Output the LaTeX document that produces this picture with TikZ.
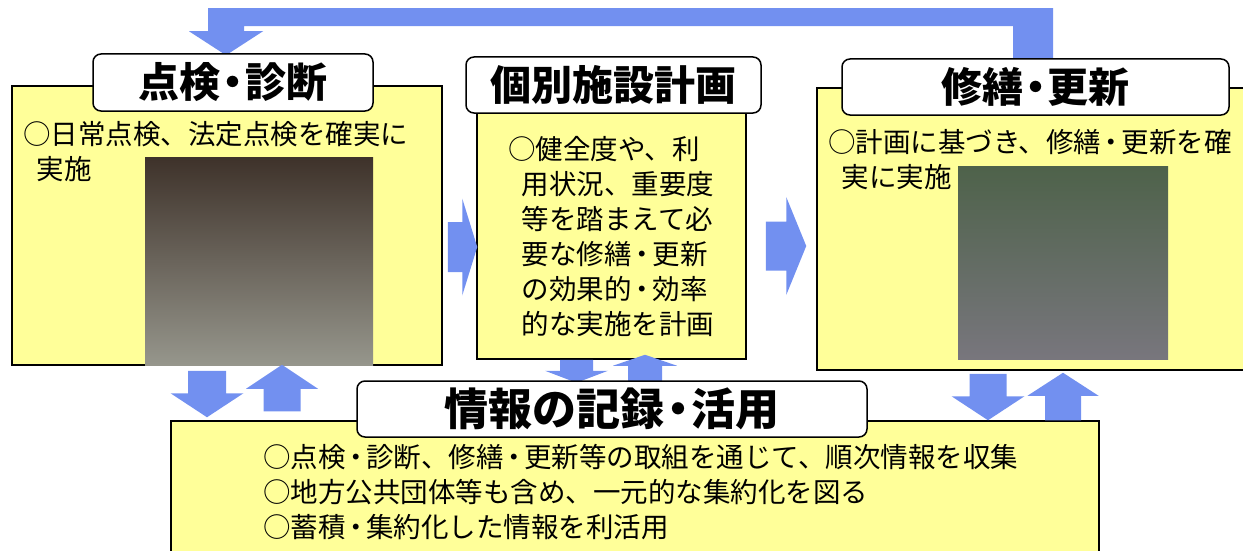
\documentclass[tikz,border=0pt]{standalone}
\usepackage{fontspec}
\setmainfont{Noto Sans CJK JP}
\usetikzlibrary{calc}
\definecolor{boxYellow}{RGB}{255,255,153}
\definecolor{flowBlue}{RGB}{114,144,240}
\newcommand{\dotsep}[1][0.6em]{\makebox[#1][c]{・}}
\tikzset{%
	% Specifications for style of nodes:
	base/.style = {rectangle, draw=black, line width=1.5pt, inner sep=0pt},
	stageBox/.style = {base, fill=boxYellow},
	stageTitle/.style = {base, rounded corners=8pt, fill=white,
		font=\fontsize{41pt}{46pt}\selectfont\bfseries},
	bodyText/.style = {inner sep=0pt, align=left, anchor=north west,
		font=\fontsize{27.5pt}{35pt}\selectfont},
	photo/.style = {rectangle, inner sep=0pt},
	flow/.style = {fill=flowBlue}
}
% fat arrow: from, to, half shaft width, half head width, head length
\newcommand{\fatarrow}[5]{%
	\coordinate (faBase) at ($(#2)!#5!(#1)$);
	\fill[flow] ($(#1)!#3!90:(#2)$) -- ($(faBase)!#3!-90:(#1)$) -- ($(faBase)!#4!-90:(#1)$)
		-- (#2) -- ($(faBase)!#4!90:(#1)$) -- ($(faBase)!#3!90:(#1)$) -- ($(#1)!#3!-90:(#2)$) -- cycle;
}

\begin{document}
\begin{tikzpicture}[x=1pt, y=-1pt]
		\clip (0,0) rectangle (1243,551);
		\node (inspBox) [stageBox, minimum width=430pt, minimum height=279pt] at (227,225.5) {};
		\node (planBox) [stageBox, minimum width=269pt, minimum height=246pt] at (611.5,236) {};
		\node (repairBox) [stageBox, minimum width=450pt, minimum height=282pt] at (1042,229) {};
		\node (infoBox) [stageBox, minimum width=928pt, minimum height=160pt] at (635,501) {};
		
		\node (inspPhoto) [photo, top color={rgb,255:red,62;green,50;blue,42}, bottom color={rgb,255:red,150;green,150;blue,140}, minimum width=228pt, minimum height=208pt] at (259,261) {};
		\node (repairPhoto) [photo, top color={rgb,255:red,78;green,98;blue,74}, bottom color={rgb,255:red,120;green,118;blue,125}, minimum width=210pt, minimum height=193pt] at (1063,262.5) {};
		
		% loop back from repair to inspection
		\coordinate (loopStart) at ($(repairBox.north)+(-9,-26)$);
		\coordinate (loopEnd) at ($(inspBox.north)+(-1,-30)$);
		\fill[flow] ($(loopStart)+(20,0)$) -- ($(loopStart)+(20,-53)$) -- ($(loopEnd)+(-18,-47)$)
			-- ($(loopEnd)+(-18,-24)$) -- ($(loopEnd)+(-37,-24)$) -- (loopEnd) -- ($(loopEnd)+(37,-24)$)
			-- ($(loopEnd)+(18,-24)$) -- ($(loopEnd)+(18,-29)$) -- ($(loopStart)+(-20,-35)$)
			-- ($(loopStart)+(-20,0)$) -- cycle;
		
		\node (inspTitle) [stageTitle, minimum width=280pt, minimum height=57pt] at (233,82.5) {点検\dotsep 診断};
		\node (planTitle) [stageTitle, minimum width=295pt, minimum height=56pt] at (613.5,85) {個別施設計画};
		\node (repairTitle) [stageTitle, minimum width=387pt, minimum height=56pt] at (1035.5,87) {修繕\dotsep 更新};
		
		\node (inspText) [bodyText] at (23,121) {○日常点検、法定点検を確実に\\\hspace*{0.5em}実施};
		\node (planText) [bodyText] at (508,136) {○健全度や、利\\\hspace*{0.5em}用状況、重要度\\\hspace*{0.5em}等を踏まえて必\\\hspace*{0.5em}要な修繕\dotsep[0.75em]更新\\\hspace*{0.5em}の効果的\dotsep[0.75em]効率\\\hspace*{0.5em}的な実施を計画};
		\node (repairText) [bodyText] at (828,129) {○計画に基づき、修繕\dotsep[0.75em]更新を確\\\hspace*{0.5em}実に実施};
		\node (infoText) [bodyText] at (263,444) {○点検\dotsep[0.75em]診断、修繕\dotsep[0.75em]更新等の取組を通じて、順次情報を収集\\○地方公共団体等も含め、一元的な集約化を図る\\○蓄積\dotsep[0.75em]集約化した情報を利活用};
		
		\coordinate (inspPlanFrom) at ($(inspBox.east)+(5,21.5)$);
		\coordinate (inspPlanTo) at ($(inspPlanFrom -| planBox.west)+(1,0)$);
		\fatarrow{inspPlanFrom}{inspPlanTo}{25pt}{48.5pt}{15pt}
		\coordinate (planRepairFrom) at ($(planBox.east)+(19,10)$);
		\coordinate (planRepairTo) at ($(planRepairFrom -| repairBox.west)+(-10,0)$);
		\fatarrow{planRepairFrom}{planRepairTo}{24.5pt}{49pt}{20pt}
		
		\coordinate (inspDownFrom) at ($(inspBox.south)+(-20,5)$);
		\coordinate (inspDownTo) at ($(inspDownFrom |- infoBox.north)+(0,-3)$);
		\fatarrow{inspDownFrom}{inspDownTo}{19pt}{36.5pt}{24pt}
		\coordinate (inspUpTo) at ($(inspBox.south)+(55,-1)$);
		\coordinate (inspUpFrom) at ($(inspUpTo |- infoBox.north)+(0,-9)$);
		\fatarrow{inspUpFrom}{inspUpTo}{18.5pt}{36pt}{24pt}
		
		\coordinate (planDownFrom) at ($(planBox.south)+(-35,0)$);
		\coordinate (planDownTo) at ($(planBox.south)+(-35,23)$);
		\fatarrow{planDownFrom}{planDownTo}{16.5pt}{31.5pt}{12pt}
		\coordinate (planUpTo) at ($(planBox.south)+(33.5,-5)$);
		\coordinate (planUpFrom) at ($(planBox.south)+(33.5,23)$);
		\fatarrow{planUpFrom}{planUpTo}{17pt}{32pt}{11pt}
		
		\coordinate (repairDownFrom) at ($(repairBox.south)+(-54,3)$);
		\coordinate (repairDownTo) at (repairDownFrom |- infoBox.north);
		\fatarrow{repairDownFrom}{repairDownTo}{18.5pt}{36.5pt}{24pt}
		\coordinate (repairUpTo) at ($(repairBox.south)+(21,2)$);
		\coordinate (repairUpFrom) at (repairUpTo |- infoBox.north);
		\fatarrow{repairUpFrom}{repairUpTo}{18pt}{35.5pt}{23pt}
		
		\node (infoTitle) [stageTitle, font=\fontsize{44pt}{48pt}\selectfont\bfseries, minimum width=510pt, minimum height=56pt] at (612,409) {情報の記録\dotsep 活用};
	\end{tikzpicture}
\end{document}
